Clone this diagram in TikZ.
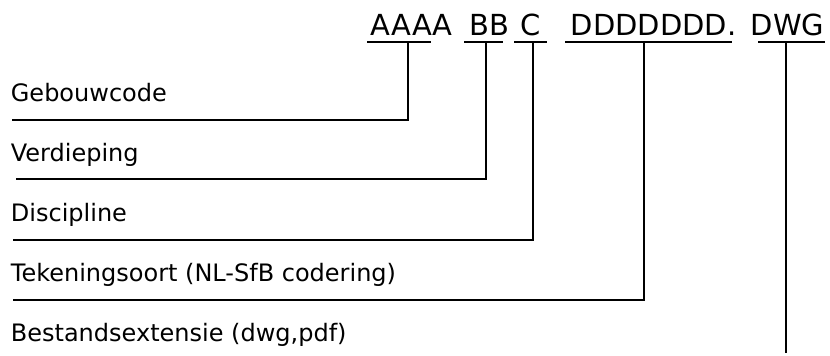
\documentclass[tikz,border=0pt]{standalone}
\usepackage{fontspec}
\setmainfont{DejaVu Sans}
\usetikzlibrary{calc}

\begin{document}
\begin{tikzpicture}[x=1pt,y=-1pt,line width=1.8pt,
    code/.style={anchor=base west,inner sep=0pt,font=\fontsize{29}{32}\selectfont},
    part/.style={anchor=base west,inner sep=0pt,font=\fontsize{24}{27}\selectfont}]
  \useasboundingbox (0,0) rectangle (830,356);
  % name of the drawing file
  \node[code] (bldg) at (370,35) {AAAA};
  \node[code] (floor) at (469,35) {BB};
  \node[code] (disc) at (520,35) {C};
  \node[code] (dwgno) at (570,35) {DDDDDDD.};
  \node[code] (ext) at (750,35) {DWG};
  \draw (367,42) -- (431,42);
  \draw (464,42) -- (503,42);
  \draw (514,42) -- (547,42);
  \draw (565,42) -- (732,42);
  \draw (758,42) -- (825,42);
  % what each part means
  \node[part] (bldg-txt) at (10,101) {Gebouwcode};
  \node[part] (floor-txt) at (10,161) {Verdieping};
  \node[part] (disc-txt) at (10,221) {Discipline};
  \node[part] (dwgno-txt) at (10,281) {Tekeningsoort (NL-SfB codering)};
  \node[part] (ext-txt) at (10,341) {Bestandsextensie (dwg,pdf)};
  \coordinate (bldg-tap) at (408,42);
  \coordinate (floor-tap) at (486,42);
  \coordinate (disc-tap) at (533,42);
  \coordinate (dwgno-tap) at (644,42);
  \coordinate (ext-tap) at (786,42);
  \coordinate (bldg-end) at (12,120);
  \coordinate (floor-end) at (16,179);
  \coordinate (disc-end) at (13,240);
  \coordinate (dwgno-end) at (13,300);
  \coordinate (ext-end) at (786,353);
  \draw (bldg-tap) |- (bldg-end);
  \draw (floor-tap) |- (floor-end);
  \draw (disc-tap) |- (disc-end);
  \draw (dwgno-tap) |- (dwgno-end);
  \draw (ext-tap) -- (ext-end);
\end{tikzpicture}
\end{document}
